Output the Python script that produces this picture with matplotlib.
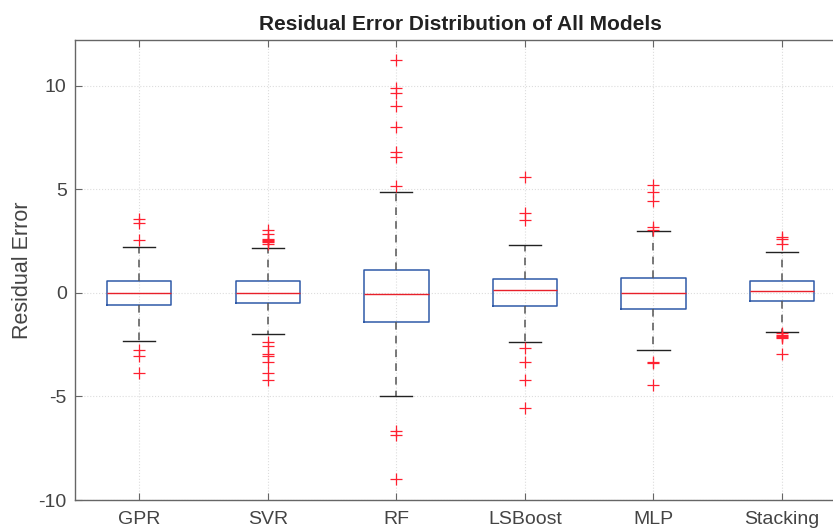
import matplotlib
matplotlib.use("Agg")
import matplotlib.pyplot as plt

# model names and box statistics
models = ["GPR", "SVR", "RF", "LSBoost", "MLP", "Stacking"]
medians = [0.0, 0.0, -0.05, 0.15, 0.0, 0.08]
q1 = [-0.6, -0.48, -1.41, -0.66, -0.8, -0.4]
q3 = [0.58, 0.58, 1.12, 0.66, 0.72, 0.58]
whisk_lo = [-2.35, -1.98, -5.0, -2.36, -2.75, -1.89]
whisk_hi = [2.23, 2.14, 4.88, 2.3, 3.0, 1.96]
outliers = [
    [3.57, 3.36, 2.54, -2.75, -3.04, -3.87],
    [3.05, 2.85, 2.6, 2.55, 2.5, 2.45, 2.35, -2.39, -2.55, -2.94, -3.07, -3.33, -3.87, -4.19],
    [11.23, 9.87, 9.62, 9.03, 7.98, 6.81, 6.57, 5.16, -6.68, -6.84, -8.98],
    [5.61, 3.87, 3.52, -2.68, -3.36, -4.22, -5.54],
    [5.2, 4.85, 4.43, 3.16, 3.05, -3.33, -3.4, -4.45],
    [2.68, 2.58, 2.36, -1.95, -2.05, -2.1, -2.15, -2.2, -2.94],
]

plt.rcParams['font.family'] = ['Liberation Sans', 'DejaVu Sans']
plt.rcParams['axes.unicode_minus'] = False

stats = []
for i, name in enumerate(models):
    stats.append({
        'label': name, 'med': medians[i], 'q1': q1[i], 'q3': q3[i],
        'whislo': whisk_lo[i], 'whishi': whisk_hi[i], 'fliers': outliers[i],
    })

fig = plt.figure(figsize=(8.33, 5.3), dpi=100)
ax = fig.add_axes([0.09, 0.0566, 0.926, 0.868])

ax.bxp(stats, widths=0.5, showfliers=True,
       boxprops=dict(color='#2f5aa8', linewidth=1.1),
       medianprops=dict(color='#e8202a', linewidth=1.0),
       whiskerprops=dict(color='#555555', linewidth=1.1, linestyle=(0, (5, 4))),
       capprops=dict(color='#222222', linewidth=1.0),
       capwidths=0.25,
       flierprops=dict(marker='+', markeredgecolor='#ff2030', markersize=9,
                       markeredgewidth=0.9, linestyle='none'))

ax.set_xlim(0.5, 6.5)
ax.set_ylim(-10, 12.2)
ax.set_yticks([-10, -5, 0, 5, 10])
ax.grid(True, linestyle=':', color='#dddddd', linewidth=0.8)
ax.set_axisbelow(True)

ax.tick_params(direction='in', length=5, colors='#666666', labelsize=14,
               top=True, right=True, labelcolor='#444444')
ax.tick_params(axis='x', pad=8)
ax.tick_params(axis='y', pad=6)
for s in ax.spines.values():
    s.set_color('#666666')
    s.set_linewidth(1.0)

ax.set_ylabel("Residual Error", fontsize=15.5, color='#444444', labelpad=4)
ax.set_title("Residual Error Distribution of All Models", fontsize=15,
             fontweight='bold', color='#222222', pad=7)

fig.savefig("out.png", dpi=100)
